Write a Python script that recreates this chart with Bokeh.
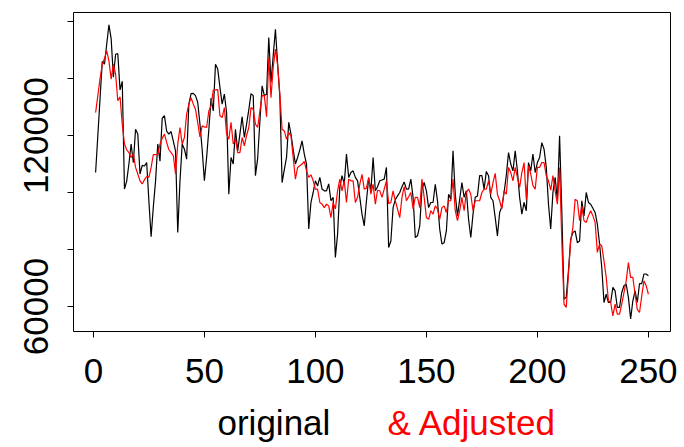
import numpy as np
from bokeh.plotting import figure
from bokeh.layouts import column
from bokeh.models import Range1d, FixedTicker, Label, ColumnDataSource
from bokeh.embed import file_html
from bokeh.resources import INLINE

original = [
    107000, 120000, 133000, 146000, 145000, 152000, 158800, 154000, 140500, 148500,
    148700, 136000, 139000, 101200, 104000, 110000, 117000, 110500, 122200, 120500,
    106500, 109500, 109300, 110500, 97000, 84500, 95000, 104000, 117000, 111000,
    126000, 127000, 121500, 120500, 121400, 118000, 114600, 86000, 104000, 117000,
    115200, 111700, 131000, 134700, 134800, 134000, 131600, 124000, 115000, 104100,
    112300, 122000, 133100, 128600, 145000, 143300, 136900, 131000, 134500, 128000,
    99400, 112300, 110000, 122200, 114600, 120500, 126600, 119300, 124000, 129000,
    134700, 134000, 105900, 112000, 125000, 137400, 134000, 134500, 154400, 138600,
    148000, 157300, 145000, 133300, 103500, 108000, 112300, 124600, 120500, 115000,
    110000, 112300, 115000, 118100, 113500, 110000, 87200, 96500, 100000, 104100,
    102300, 105300, 101200, 100600, 100600, 103000, 97100, 98300, 77200, 85400,
    101800, 105900, 103000, 113500, 105300, 107000, 107600, 105300, 104100, 98300,
    92400, 88300, 97100, 105000, 100600, 112300, 100600, 102000, 104100, 104400,
    104700, 108800, 80700, 83000, 94700, 97500, 98800, 100000, 102000, 103700,
    101200, 101200, 104700, 98300, 84200, 84800, 88300, 101200, 103500, 100600,
    94700, 96500, 96500, 102900, 97100, 87200, 81900, 82400, 86500, 99400,
    97600, 114600, 99400, 91800, 97600, 103500, 98300, 100600, 90600, 84200,
    92400, 98300, 98800, 105900, 105900, 101200, 107400, 105900, 98300, 97100,
    91200, 84800, 93000, 95000, 100000, 106000, 114000, 110000, 107600, 114600,
    107600, 98300, 92400, 96500, 93600, 110500, 107600, 113500, 107000, 110500,
    112300, 117500, 115200, 108800, 95900, 87200, 100000, 105300, 97100, 119900,
    93600, 62600, 63200, 72600, 83600, 86000, 86500, 82400, 83000, 97100,
    91800, 100000, 96500, 95900, 94500, 93000, 88900, 82000, 73700, 61400,
    64300, 61400, 61400, 66700, 65500, 59700, 59700, 64900, 67300, 67900,
    63200, 55600, 62000, 65500, 61400, 68000, 68000, 71400, 71400, 70800,
]

adjusted = [
    128000, 134000, 140000, 145000, 147000, 149700, 146200, 139800, 145000, 141500,
    132200, 133600, 124000, 117000, 115000, 114000, 112300, 113500, 108800, 106500,
    104100, 103000, 104500, 105600, 105300, 108800, 113300, 113300, 113300, 117000,
    119000, 120500, 117600, 115000, 114000, 112900, 106500, 117000, 122800, 117000,
    119300, 127500, 131000, 133300, 131000, 129200, 124500, 119500, 123400, 123000,
    122800, 128600, 130400, 135900, 136000, 136100, 126900, 126300, 129800, 120500,
    118700, 124600, 117000, 118700, 114000, 114000, 119300, 116400, 120000, 122800,
    129800, 129200, 124000, 122800, 128600, 134000, 134000, 126600, 147400, 133300,
    143900, 150300, 144500, 134500, 122200, 121600, 118700, 121000, 119900, 112300,
    104700, 108800, 109400, 110000, 110900, 107600, 105300, 106200, 104100, 101200,
    101200, 96500, 95900, 94700, 95900, 95300, 91200, 96500, 94200, 100600,
    104700, 100600, 104100, 96500, 104700, 104100, 104100, 96500, 98300, 102900,
    106400, 101200, 101500, 105300, 99400, 102900, 95900, 100800, 100600, 98300,
    101200, 104100, 96100, 96500, 100600, 97100, 94200, 91200, 98300, 102100,
    97100, 98500, 100000, 94200, 98300, 98300, 94700, 104700, 98300, 91200,
    90600, 93600, 92400, 95300, 94200, 90600, 94700, 95300, 93000, 97100,
    97100, 104700, 93600, 90100, 93600, 98300, 93600, 100000, 101200, 99400,
    93600, 97100, 97100, 97100, 100000, 101200, 101200, 104100, 99400, 103500,
    106700, 99400, 97100, 94200, 100600, 99400, 108800, 107000, 104100, 108800,
    105300, 101800, 107000, 110500, 97600, 109400, 106500, 102400, 101200, 108800,
    108800, 110500, 110500, 105900, 104100, 100800, 105900, 100600, 95900, 108800,
    83000, 60800, 59700, 71400, 83000, 87700, 97600, 97100, 90100, 95300,
    90100, 89500, 91800, 93600, 91800, 89500, 79000, 81900, 81300, 76000,
    70200, 62000, 61400, 56700, 60800, 57300, 57300, 60800, 64900, 69000,
    75400, 70200, 70200, 64300, 59000, 57900, 63700, 69000, 67300, 64300,
]

x_ticks = [0, 50, 100, 150, 200, 250]
y_ticks = [60000, 80000, 100000, 120000, 140000, 160000]
y_labels = {60000: "60000", 80000: "", 100000: "", 120000: "120000", 140000: "", 160000: ""}
title_left = "original"
title_right = "& Adjusted"

index = np.arange(1, len(original) + 1)
src = ColumnDataSource(dict(x=index, orig=original, adj=adjusted))

FONT = "Liberation Sans"

p = figure(width=684, height=400, output_backend="svg", toolbar_location=None,
           x_range=Range1d(-8.96, 259.96), y_range=Range1d(51228, 163158),
           min_border_left=73, min_border_right=14, min_border_top=12, min_border_bottom=69)
p.grid.visible = False
p.outline_line_color = "black"
p.outline_line_width = 1
p.background_fill_color = "white"
p.border_fill_color = "white"

p.line("x", "orig", source=src, line_color="black", line_width=1.2)
p.line("x", "adj", source=src, line_color="red", line_width=1.2)

for ax in (p.xaxis[0], p.yaxis[0]):
    ax.axis_line_color = None
    ax.major_tick_out = 6
    ax.major_tick_in = 0
    ax.minor_tick_line_color = None
    ax.major_tick_line_color = "black"
    ax.major_label_text_font = FONT
    ax.major_label_text_font_size = "35px"
    ax.major_label_text_color = "black"

p.xaxis[0].ticker = FixedTicker(ticks=x_ticks)
p.xaxis[0].major_label_standoff = 21
p.yaxis[0].ticker = FixedTicker(ticks=y_ticks)
p.yaxis[0].major_label_overrides = y_labels
p.yaxis[0].major_label_orientation = "vertical"
p.yaxis[0].major_label_standoff = 19

# caption strip below the plot, holding the two-coloured x title
cap = figure(width=684, height=47, output_backend="svg", toolbar_location=None,
             x_axis_location=None, y_axis_location=None,
             x_range=Range1d(0, 1), y_range=Range1d(0, 1),
             min_border_left=0, min_border_right=0, min_border_top=0, min_border_bottom=0)
cap.grid.visible = False
cap.outline_line_color = None
cap.background_fill_color = "white"
cap.border_fill_color = "white"
cap.add_layout(Label(x=144, y=25, x_units="screen", y_units="screen", text=title_left,
                     text_font=FONT, text_font_size="35px", text_color="black",
                     text_baseline="alphabetic"))
cap.add_layout(Label(x=314, y=25, x_units="screen", y_units="screen", text=title_right,
                     text_font=FONT, text_font_size="35px", text_color="red",
                     text_baseline="alphabetic"))

layout = column(p, cap, spacing=0)
open("out.html", "w").write(file_html(layout, INLINE))
